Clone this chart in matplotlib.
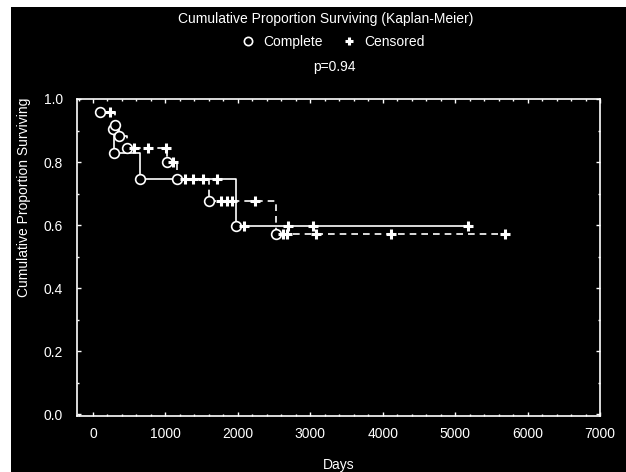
import matplotlib
matplotlib.use('Agg')
import matplotlib.pyplot as plt
from matplotlib.patches import Rectangle
from matplotlib.ticker import MultipleLocator

plt.rcParams['font.family'] = ['Liberation Sans', 'DejaVu Sans']

# group 1 (solid line)
event_days_1 = [272, 290, 650, 1975]
event_surv_1 = [0.906, 0.83, 0.746, 0.598]
cens_days_1 = [1715, 2086, 2697, 3043, 5175]
cens_surv_1 = [0.746, 0.598, 0.598, 0.598, 0.598]

# group 2 (dashed line)
event_days_2 = [97, 304, 363, 465, 1026, 1155, 1606, 2528]
event_surv_2 = [0.96, 0.917, 0.882, 0.846, 0.799, 0.746, 0.675, 0.572]
cens_days_2 = [235, 565, 764, 1008, 1109, 1271, 1376, 1515, 1770, 1845, 1915,
               2238, 2630, 2680, 3080, 4116, 5690]
cens_surv_2 = [0.96, 0.846, 0.846, 0.846, 0.799, 0.746, 0.746, 0.746, 0.675, 0.675,
               0.675, 0.675, 0.572, 0.572, 0.572, 0.572, 0.572]

x_ticks = [0, 1000, 2000, 3000, 4000, 5000, 6000, 7000]
y_ticks = [0.0, 0.2, 0.4, 0.6, 0.8, 1.0]

fs = 10

fig = plt.figure(figsize=(6.26, 4.72), dpi=100)
fig.patch.set_facecolor('white')
fig.add_artist(Rectangle((11 / 626, 0), 1, 1 - 7 / 472, transform=fig.transFigure,
                         facecolor='black', edgecolor='none', zorder=-10))

ax = fig.add_axes([77 / 626, 1 - 416 / 472, 523 / 626, 317 / 472])
ax.set_facecolor('black')


def km_line(ev_d, ev_s, ce_d, ce_s):
    # step line from first event to the last observation
    xs = list(ev_d)
    ys = list(ev_s)
    last = max(ev_d + ce_d)
    xs.append(last)
    ys.append(ev_s[-1])
    return xs, ys


x1, y1 = km_line(event_days_1, event_surv_1, cens_days_1, cens_surv_1)
x2, y2 = km_line(event_days_2, event_surv_2, cens_days_2, cens_surv_2)

ax.step(x1, y1, where='post', color='white', lw=1.2)
ax.step(x2, y2, where='post', color='white', lw=1.2, dashes=(4, 3))

mk_c = dict(marker='o', ms=7, mfc='black', mec='white', mew=1.2, ls='none')
mk_p = dict(marker='+', ms=7, mec='white', mew=2.2, ls='none')

circ, = ax.plot(event_days_1, event_surv_1, label='Complete', **mk_c)
ax.plot(event_days_2, event_surv_2, **mk_c)
plus, = ax.plot(cens_days_1, cens_surv_1, label='Censored', **mk_p)
ax.plot(cens_days_2, cens_surv_2, **mk_p)

ax.set_xlim(-221, 7000)
ax.set_ylim(-0.006, 1.0)
ax.set_xticks(x_ticks)
ax.set_yticks(y_ticks)
ax.set_yticklabels(['%.1f' % v for v in y_ticks])
ax.xaxis.set_minor_locator(MultipleLocator(200))
ax.yaxis.set_minor_locator(MultipleLocator(0.1))

for s in ax.spines.values():
    s.set_color('white')
    s.set_linewidth(1.2)
ax.tick_params(which='both', direction='in', colors='white', top=True, right=True,
               labelsize=fs)
ax.tick_params(which='major', length=3, width=1)
ax.tick_params(which='minor', length=1.5, width=1)
ax.tick_params(axis='y', pad=10)
ax.tick_params(axis='x', pad=8)

ax.set_xlabel('Days', color='white', fontsize=fs, labelpad=12)
ax.set_ylabel('Cumulative Proportion Surviving', color='white', fontsize=fs)
ax.yaxis.set_label_coords(-0.088, 0.69)

fig.text(0.52, 1 - 19 / 472, 'Cumulative Proportion Surviving (Kaplan-Meier)',
         color='white', fontsize=fs, ha='center', va='center')
leg = fig.legend(handles=[circ, plus], ncol=2, loc='center', frameon=False,
                 bbox_to_anchor=(0.532, 1 - 42 / 472), fontsize=fs,
                 handlelength=1.0, handletextpad=0.6, columnspacing=1.4,
                 labelcolor='white', markerscale=0.85)
fig.text(0.535, 1 - 67 / 472, 'p=0.94', color='white', fontsize=fs,
         ha='center', va='center')

fig.savefig('out.png', dpi=100, facecolor=fig.get_facecolor())
